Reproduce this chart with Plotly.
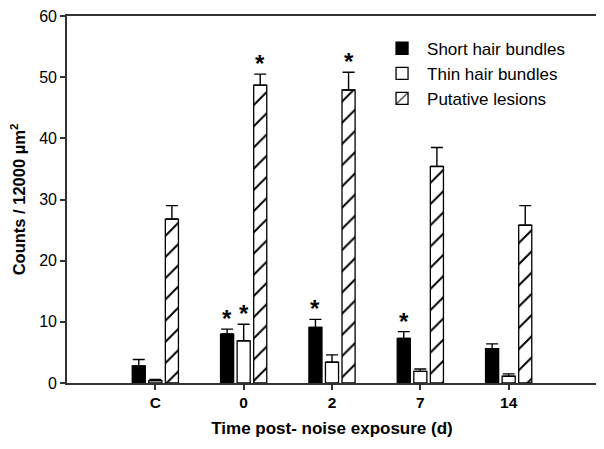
import plotly.graph_objects as go

categories = ["C", "0", "2", "7", "14"]
short_vals = [2.8, 8.0, 9.1, 7.3, 5.6]
short_err = [1.05, 0.8, 1.3, 1.1, 0.8]
thin_vals = [0.4, 6.9, 3.4, 1.9, 1.1]
thin_err = [0.2, 2.7, 1.2, 0.4, 0.4]
lesion_vals = [26.8, 48.7, 47.9, 35.4, 25.8]
lesion_err = [2.2, 1.8, 2.9, 3.1, 3.2]
# significance stars: (category index, series index)
stars = [(1, 0), (1, 1), (1, 2), (2, 0), (2, 2), (3, 0)]

FONT = "Liberation Sans, Arial, sans-serif"
series = [
    ("Short hair bundles", short_vals, short_err, dict(color="black", line=dict(color="black", width=1.3))),
    ("Thin hair bundles", thin_vals, thin_err, dict(color="white", line=dict(color="black", width=1.3))),
    ("Putative lesions", lesion_vals, lesion_err,
     dict(color="white", line=dict(color="black", width=1.3),
          pattern=dict(shape="/", fgcolor="black", bgcolor="white", fgopacity=1,
                       size=15, solidity=0.13))),
]

fig = go.Figure()
for name, vals, err, marker in series:
    fig.add_trace(go.Bar(
        x=categories, y=vals, name=name, marker=marker,
        error_y=dict(type="data", array=err, arrayminus=[0] * len(err), symmetric=False,
                     color="black", thickness=1.4, width=6),
    ))

BARGAP = 0.4375
pitch = (1 - BARGAP) / 3
for ci, si in stars:
    vals = series[si][1]
    errs = series[si][2]
    fig.add_annotation(x=ci + (si - 1) * pitch, y=vals[ci] + errs[ci], xref="x", yref="y",
                       text="*", showarrow=False, yanchor="bottom", yshift=-5,
                       font=dict(family=FONT, size=24, color="black", weight="bold"))

axis_common = dict(showline=True, linecolor="#333", linewidth=1.6, mirror=True,
                   ticks="outside", ticklen=5, tickcolor="#333", tickwidth=1.5,
                   showgrid=False, zeroline=False, automargin=False,
                   ticklabeloverflow="allow")
fig.update_layout(
    width=604, height=449,
    margin=dict(l=59, r=15, t=8, b=74),
    paper_bgcolor="white", plot_bgcolor="white",
    barmode="group", bargap=BARGAP, bargroupgap=0.21,
    font=dict(family=FONT, color="black"),
    xaxis=dict(**axis_common, range=[-1, 5],
               tickfont=dict(family=FONT, size=15.5, color="black", weight="bold"),
               title=dict(text="<b>Time post- noise exposure (d)</b>",
                          font=dict(family=FONT, size=17), standoff=12)),
    yaxis=dict(**axis_common, range=[0, 60], dtick=10,
               tickfont=dict(family=FONT, size=16, color="black"),
               title=dict(text="<b>Counts / 12000 µm<sup>2</sup></b>",
                          font=dict(family=FONT, size=16.5), standoff=9)),
    legend=dict(x=0.585, y=0.96, xanchor="left", yanchor="top",
                font=dict(family=FONT, size=17, color="black"),
                bgcolor="rgba(0,0,0,0)", tracegroupgap=0, itemwidth=40),
)
fig.write_html("out.html")
